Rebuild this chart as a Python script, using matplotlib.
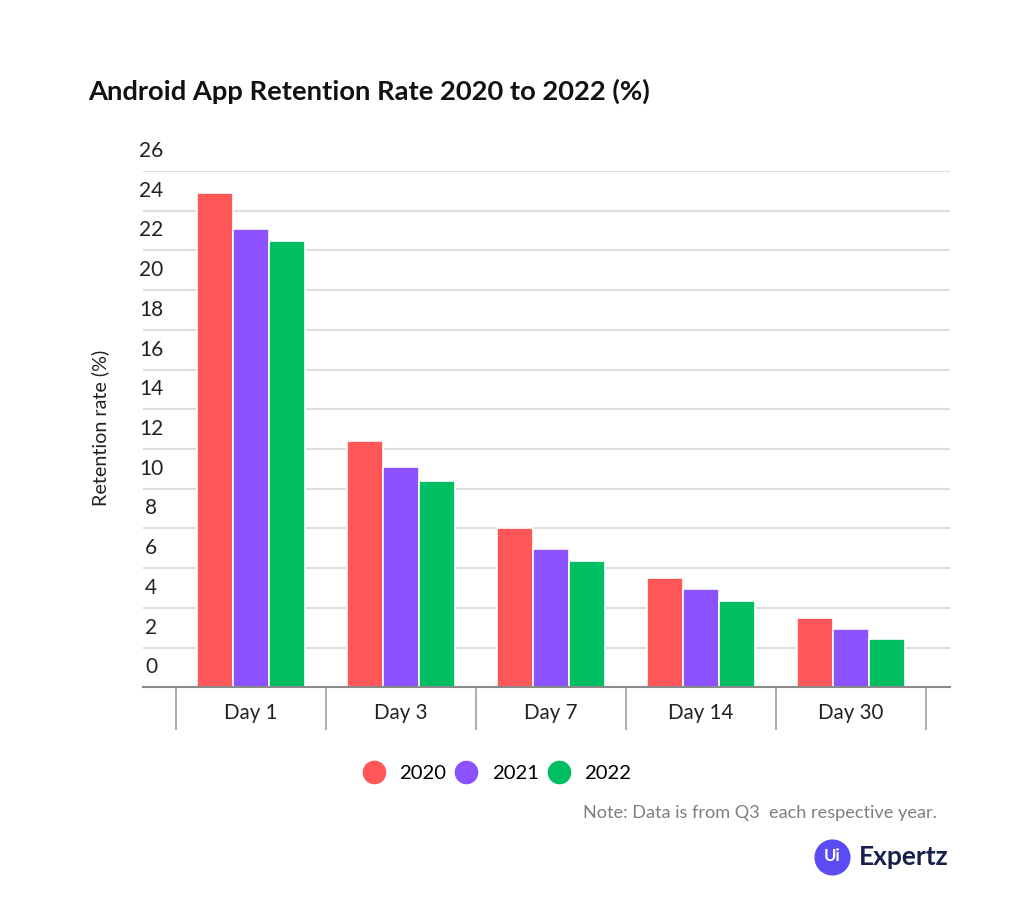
import matplotlib.pyplot as plt
import matplotlib.transforms as mtransforms
from matplotlib.lines import Line2D
import numpy as np

plt.rcParams['font.family'] = ['Lato', 'DejaVu Sans']

# Data
days = ['Day 1', 'Day 3', 'Day 7', 'Day 14', 'Day 30']
years = ['2020', '2021', '2022']
rate_2020 = [24.9, 12.4, 8.0, 5.5, 3.5]
rate_2021 = [23.1, 11.1, 6.95, 4.95, 2.95]
rate_2022 = [22.5, 10.4, 6.35, 4.35, 2.45]
y_ticks = [0, 2, 4, 6, 8, 10, 12, 14, 16, 18, 20, 22, 24, 26]

colors = ['#FF5757', '#8C52FF', '#00BF63']

fig = plt.figure(figsize=(10.24, 9.01), dpi=100)
ax = fig.add_axes([143 / 1024, 1 - 687.3 / 901, 807 / 1024, 516.3 / 901])

x = np.arange(len(days))
width = 0.24
for i, (vals, c, lab) in enumerate(zip([rate_2020, rate_2021, rate_2022], colors, years)):
    ax.bar(x + (i - 1) * width, vals, width, color=c, edgecolor='white',
           linewidth=1.2, label=lab, zorder=3)

ax.set_xlim(-0.72, 4.66)
ax.set_ylim(0, 26)

# gridlines
ax.set_yticks(y_ticks)
ax.yaxis.grid(True, color='#dedede', linewidth=1.5, zorder=0)
ax.tick_params(axis='y', length=0, labelleft=False)

# y tick labels sit half a step above their gridlines in the original
ytrans = mtransforms.blended_transform_factory(ax.transAxes, ax.transData)
ytrans = mtransforms.offset_copy(ytrans, fig=fig, x=0.08, y=0.2, units='inches')
for t in y_ticks:
    ax.text(0, t, str(t), transform=ytrans, ha='center', va='center',
            fontsize=15, color='#222222')

for s in ['top', 'right', 'left']:
    ax.spines[s].set_visible(False)
ax.spines['bottom'].set_color('#8a8a8a')
ax.spines['bottom'].set_linewidth(1.5)
ax.spines['bottom'].set_zorder(4)

# category labels and separators
ax.set_xticks(x)
ax.set_xticklabels(days, fontsize=14.8, color='#222222')
ax.set_xticks(np.arange(-0.5, len(days), 1.0), minor=True)
ax.tick_params(axis='x', which='major', length=0, pad=11)
ax.tick_params(axis='x', which='minor', length=31, width=1.5, color='#b0b0b0')

fig.text(100 / 1024, 1 - 428 / 901, 'Retention rate (%)', rotation=90,
         ha='center', va='center', fontsize=14.2, color='#222222')

fig.text(88 / 1024, 1 - 91 / 901, 'Android App Retention Rate 2020 to 2022 (%)',
         ha='left', va='center', fontsize=19.7, fontweight='bold', color='#111111')

handles = [Line2D([], [], marker='o', linestyle='none', markersize=16,
                  markerfacecolor=c, markeredgecolor=c) for c in colors]
fig.legend(handles, years, loc='center', bbox_to_anchor=(497 / 1024, 1 - 773 / 901),
           ncol=3, frameon=False, fontsize=14.6, handlelength=1.1,
           handletextpad=0.7, columnspacing=0.45)

fig.text(937 / 1024, 1 - 813 / 901, 'Note: Data is from Q3  each respective year.',
         ha='right', va='center', fontsize=13.1, color='#7f7f7f')

# logo
fig.add_artist(Line2D([832 / 1024], [1 - 857 / 901], marker='o', markersize=25,
                      color='#5B4BF5', transform=fig.transFigure))
fig.text(832 / 1024, 1 - 856 / 901, 'Ui', ha='center', va='center',
         fontsize=12, color='white', fontweight='bold')
fig.text(859 / 1024, 1 - 857 / 901, 'Expertz', ha='left', va='center',
         fontsize=19, color='#16204A', fontweight='bold')

fig.savefig('out.png', dpi=100, facecolor='white')
